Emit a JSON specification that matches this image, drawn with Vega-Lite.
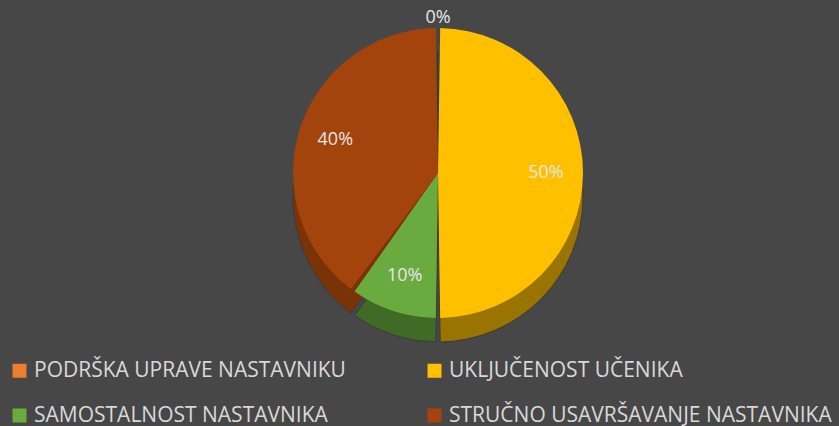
{
  "$schema": "https://vega.github.io/schema/vega-lite/v6.json",
  "width": 802,
  "height": 346,
  "autosize": {"type": "none"},
  "padding": {"left": 37, "top": 0, "right": 0, "bottom": 80},
  "background": "#474747",
  "config": {"view": {"stroke": null}, "font": "Open Sans"},
  "data": {"values": [
    {"k": "PODRŠKA UPRAVE NASTAVNIKU", "v": 0, "i": 1},
    {"k": "UKLJUČENOST UČENIKA", "v": 50, "i": 2},
    {"k": "SAMOSTALNOST NASTAVNIKA", "v": 10, "i": 3},
    {"k": "STRUČNO USAVRŠAVANJE NASTAVNIKA", "v": 40, "i": 4}
  ]},
  "transform": [{"calculate": "datum.v + '%'", "as": "label"}],
  "layer": [
    {
      "mark": {"type": "arc", "outerRadius": 145, "yOffset": 24, "padAngle": 0.03, "stroke": "#3a3a3a", "strokeWidth": 1},
      "encoding": {
        "theta": {"field": "v", "type": "quantitative", "stack": true},
        "order": {"field": "i", "type": "quantitative"},
        "color": {"field": "k", "type": "nominal", "legend": null,
          "scale": {"domain": ["PODRŠKA UPRAVE NASTAVNIKU", "UKLJUČENOST UČENIKA", "SAMOSTALNOST NASTAVNIKA", "STRUČNO USAVRŠAVANJE NASTAVNIKA"],
                    "range": ["#8a4a1d", "#9a7400", "#3f6b26", "#7a3306"]}}
      }
    },
    {
      "mark": {"type": "arc", "outerRadius": 145, "padAngle": 0.03},
      "encoding": {
        "theta": {"field": "v", "type": "quantitative", "stack": true},
        "order": {"field": "i", "type": "quantitative"},
        "color": {"field": "k", "type": "nominal", "title": null,
          "scale": {"domain": ["PODRŠKA UPRAVE NASTAVNIKU", "UKLJUČENOST UČENIKA", "SAMOSTALNOST NASTAVNIKA", "STRUČNO USAVRŠAVANJE NASTAVNIKA"],
                    "range": ["#ED7D31", "#FFC000", "#6aab40", "#a3440c"]},
          "legend": {"orient": "none", "legendX": -28, "legendY": 360, "direction": "horizontal", "columns": 2,
            "symbolType": "square", "symbolSize": 196, "symbolStrokeWidth": 0, "labelFontSize": 21, "labelColor": "#d9d9d9",
            "labelFont": "Open Sans", "labelLimit": 500, "columnPadding": 78, "rowPadding": 23, "symbolOffset": 0, "labelOffset": 4}}
      }
    },
    {
      "transform": [{"filter": "datum.v > 0"}],
      "mark": {"type": "text", "radius": 108, "fontSize": 18, "color": "#e6e6e6", "font": "Open Sans"},
      "encoding": {
        "theta": {"field": "v", "type": "quantitative", "stack": true},
        "order": {"field": "i", "type": "quantitative"},
        "text": {"field": "label"}
      }
    },
    {
      "transform": [{"filter": "datum.v == 0"}],
      "mark": {"type": "text", "radius": 155, "fontSize": 18, "color": "#e6e6e6", "font": "Open Sans"},
      "encoding": {
        "theta": {"field": "v", "type": "quantitative", "stack": true},
        "text": {"field": "label"}
      }
    }
  ],
  "resolve": {"scale": {"color": "independent"}}
}
